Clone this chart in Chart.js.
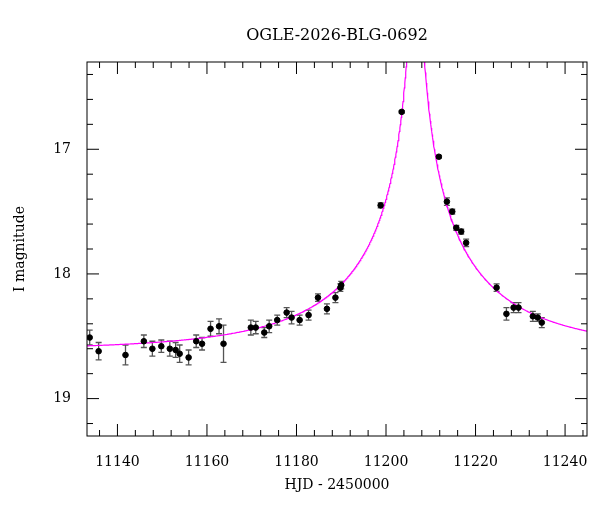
<!DOCTYPE html>
<html>
<head>
<meta charset="utf-8">
<script src="https://cdn.jsdelivr.net/npm/chart.js@4"></script>
<style>
  body { margin: 0; background: #fff; }
  #wrap { width: 600px; height: 512px; }
</style>
</head>
<body>
<div id="wrap"><canvas id="c" width="600" height="512"></canvas></div>
<script>
// Observed photometry (HJD - 2450000, I mag, error)
const obsTime = [11133.8, 11135.8, 11141.8, 11145.9, 11147.8, 11149.8, 11151.7, 11153.0, 11153.9, 11155.9,
  11157.6, 11158.9, 11160.8, 11162.7, 11163.7, 11169.8, 11170.9, 11172.8, 11173.9, 11175.7,
  11177.8, 11178.9, 11180.7, 11182.7, 11184.8, 11186.8, 11188.7, 11189.8, 11190.0,
  11198.8, 11203.5, 11211.8, 11213.6, 11214.8, 11215.7, 11216.8, 11217.9,
  11224.7, 11226.9, 11228.5, 11229.6, 11232.8, 11233.9, 11234.8];
const obsMag = [18.51, 18.62, 18.65, 18.54, 18.60, 18.58, 18.60, 18.61, 18.64, 18.67,
  18.54, 18.56, 18.44, 18.42, 18.56, 18.43, 18.43, 18.47, 18.42, 18.37,
  18.31, 18.35, 18.37, 18.33, 18.19, 18.28, 18.19, 18.11, 18.09,
  17.45, 16.70, 17.06, 17.42, 17.50, 17.63, 17.66, 17.75,
  18.11, 18.32, 18.27, 18.27, 18.34, 18.35, 18.39];
const obsErr = [0.06, 0.07, 0.08, 0.05, 0.06, 0.05, 0.06, 0.06, 0.07, 0.06,
  0.05, 0.05, 0.06, 0.06, 0.15, 0.06, 0.05, 0.04, 0.05, 0.04,
  0.04, 0.05, 0.04, 0.04, 0.03, 0.04, 0.04, 0.03, 0.03,
  0.02, 0.01, 0.01, 0.03, 0.02, 0.02, 0.02, 0.03,
  0.03, 0.05, 0.04, 0.04, 0.04, 0.03, 0.04];
const xTicks = [11140, 11160, 11180, 11200, 11220, 11240];
const yTicks = [17, 18, 19];

// Paczynski model parameters (fit by eye)
const model = { t0: 11206.6, tE: 40, u0: 0.01, fs: 0.4, base: 18.61 };

function modelMag(t) {
  const tau = (t - model.t0) / model.tE;
  const u = Math.sqrt(model.u0 * model.u0 + tau * tau);
  const A = (u * u + 2) / (u * Math.sqrt(u * u + 4));
  return model.base - 2.5 * Math.log10(model.fs * A + 1 - model.fs);
}
const modelPts = [];
for (let t = 11133; t <= 11245; t += 0.1) modelPts.push({ x: t, y: modelMag(t) });

const framePlugin = {
  id: 'frame',
  beforeDatasetsDraw(chart) {
    const { ctx, chartArea: a, scales: { x, y } } = chart;
    ctx.save();
    ctx.beginPath();
    ctx.rect(a.left, a.top, a.right - a.left, a.bottom - a.top);
    ctx.clip();
    // error bars
    ctx.strokeStyle = '#555';
    ctx.lineWidth = 1.3;
    obsTime.forEach((t, i) => {
      const px = x.getPixelForValue(t);
      const y1 = y.getPixelForValue(obsMag[i] - obsErr[i]);
      const y2 = y.getPixelForValue(obsMag[i] + obsErr[i]);
      ctx.beginPath();
      ctx.moveTo(px, y1); ctx.lineTo(px, y2);
      ctx.moveTo(px - 3, y1); ctx.lineTo(px + 3, y1);
      ctx.moveTo(px - 3, y2); ctx.lineTo(px + 3, y2);
      ctx.stroke();
    });
    ctx.restore();
  },
  afterDraw(chart) {
    const { ctx, chartArea: a, scales: { x, y } } = chart;
    ctx.save();
    ctx.strokeStyle = '#000';
    ctx.lineWidth = 1;
    ctx.strokeRect(a.left, a.top, a.right - a.left, a.bottom - a.top);
    ctx.beginPath();
    for (let v = 11136; v <= 11244; v += 4) {
      const px = x.getPixelForValue(v);
      const len = (v % 20 === 0) ? 12 : 6;
      ctx.moveTo(px, a.bottom); ctx.lineTo(px, a.bottom - len);
      ctx.moveTo(px, a.top); ctx.lineTo(px, a.top + len);
    }
    for (let v = 16.4; v <= 19.21; v += 0.2) {
      const py = y.getPixelForValue(v);
      const len = Math.abs(v - Math.round(v)) < 0.01 ? 12 : 6;
      ctx.moveTo(a.left, py); ctx.lineTo(a.left + len, py);
      ctx.moveTo(a.right, py); ctx.lineTo(a.right - len, py);
    }
    ctx.stroke();
    ctx.fillStyle = '#000';
    ctx.font = '16px "DejaVu Serif", serif';
    ctx.textAlign = 'center';
    ctx.fillText('OGLE-2026-BLG-0692', (a.left + a.right) / 2, 40);
    ctx.restore();
  }
};

const font = { family: '"DejaVu Serif", serif', size: 14 };

new Chart(document.getElementById('c'), {
  type: 'scatter',
  data: {
    datasets: [
      { data: modelPts, showLine: true, borderColor: '#ff00ff', borderWidth: 1.2, pointRadius: 0, order: 2 },
      { data: obsTime.map((t, i) => ({ x: t, y: obsMag[i] })), backgroundColor: '#000', borderColor: '#000',
        pointRadius: 2.8, order: 1 }
    ]
  },
  options: {
    responsive: false,
    animation: false,
    layout: { padding: { top: 62, right: 13 } },
    plugins: { legend: { display: false }, tooltip: { enabled: false } },
    scales: {
      x: {
        type: 'linear', min: 11133.2, max: 11244.9,
        afterFit: s => { s.height = 76; },
        afterBuildTicks: s => { s.ticks = xTicks.map(v => ({ value: v })); },
        grid: { display: false }, border: { display: false },
        ticks: { color: '#000', font, padding: 10, maxRotation: 0, callback: v => String(v) },
        title: { display: true, text: 'HJD - 2450000', color: '#000', font, padding: { top: 0, bottom: 18 } }
      },
      y: {
        type: 'linear', min: 16.3, max: 19.3, reverse: true,
        afterFit: s => { s.width = 87; },
        afterBuildTicks: s => { s.ticks = yTicks.map(v => ({ value: v })); },
        grid: { display: false }, border: { display: false },
        ticks: { color: '#000', font, padding: 8 },
        title: { display: true, text: 'I magnitude', color: '#000', font, padding: { top: 12 } }
      }
    }
  },
  plugins: [framePlugin]
});
</script>
</body>
</html>
